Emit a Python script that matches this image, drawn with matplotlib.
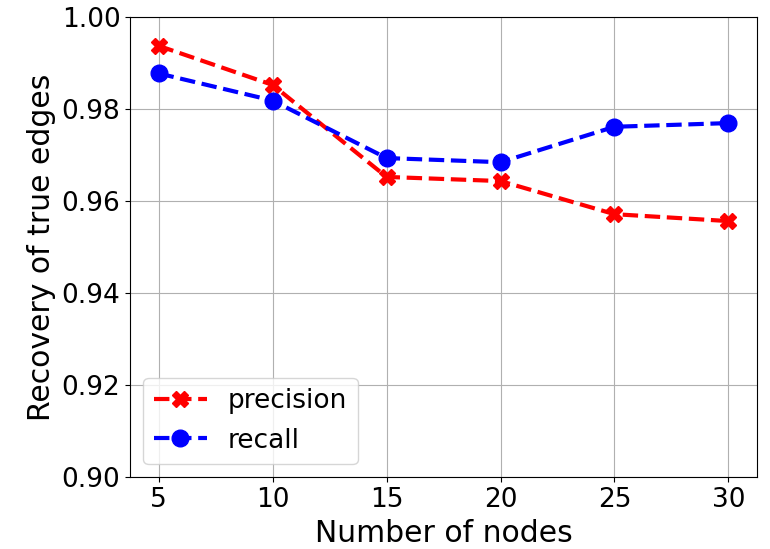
import numpy as np
import matplotlib.pyplot as plt

nodes = [5, 10, 15, 20, 25, 30]
precision = [0.9938, 0.9853, 0.9653, 0.9644, 0.9572, 0.9557]
recall = [0.9878, 0.9819, 0.9694, 0.9685, 0.9762, 0.9770]

fig, ax = plt.subplots(figsize=(7.7, 5.49), dpi=100)
ax.plot(nodes, precision, 'r--', marker='X', markersize=12, linewidth=3, label='precision')
ax.plot(nodes, recall, 'b--', marker='o', markersize=12, linewidth=3, label='recall')
ax.set_ylim(0.90, 1.00)
ax.set_xticks(nodes)
ax.set_yticks(np.arange(0.90, 1.001, 0.02))
ax.grid(True)
ax.tick_params(labelsize=19)
ax.set_xlabel('Number of nodes', fontsize=21.5)
ax.set_ylabel('Recovery of true edges', fontsize=21.5)
ax.legend(loc='lower left', fontsize=19)
plt.subplots_adjust(left=0.169, right=0.983, top=0.9685, bottom=0.1306)
plt.savefig('out.png', dpi=100)
